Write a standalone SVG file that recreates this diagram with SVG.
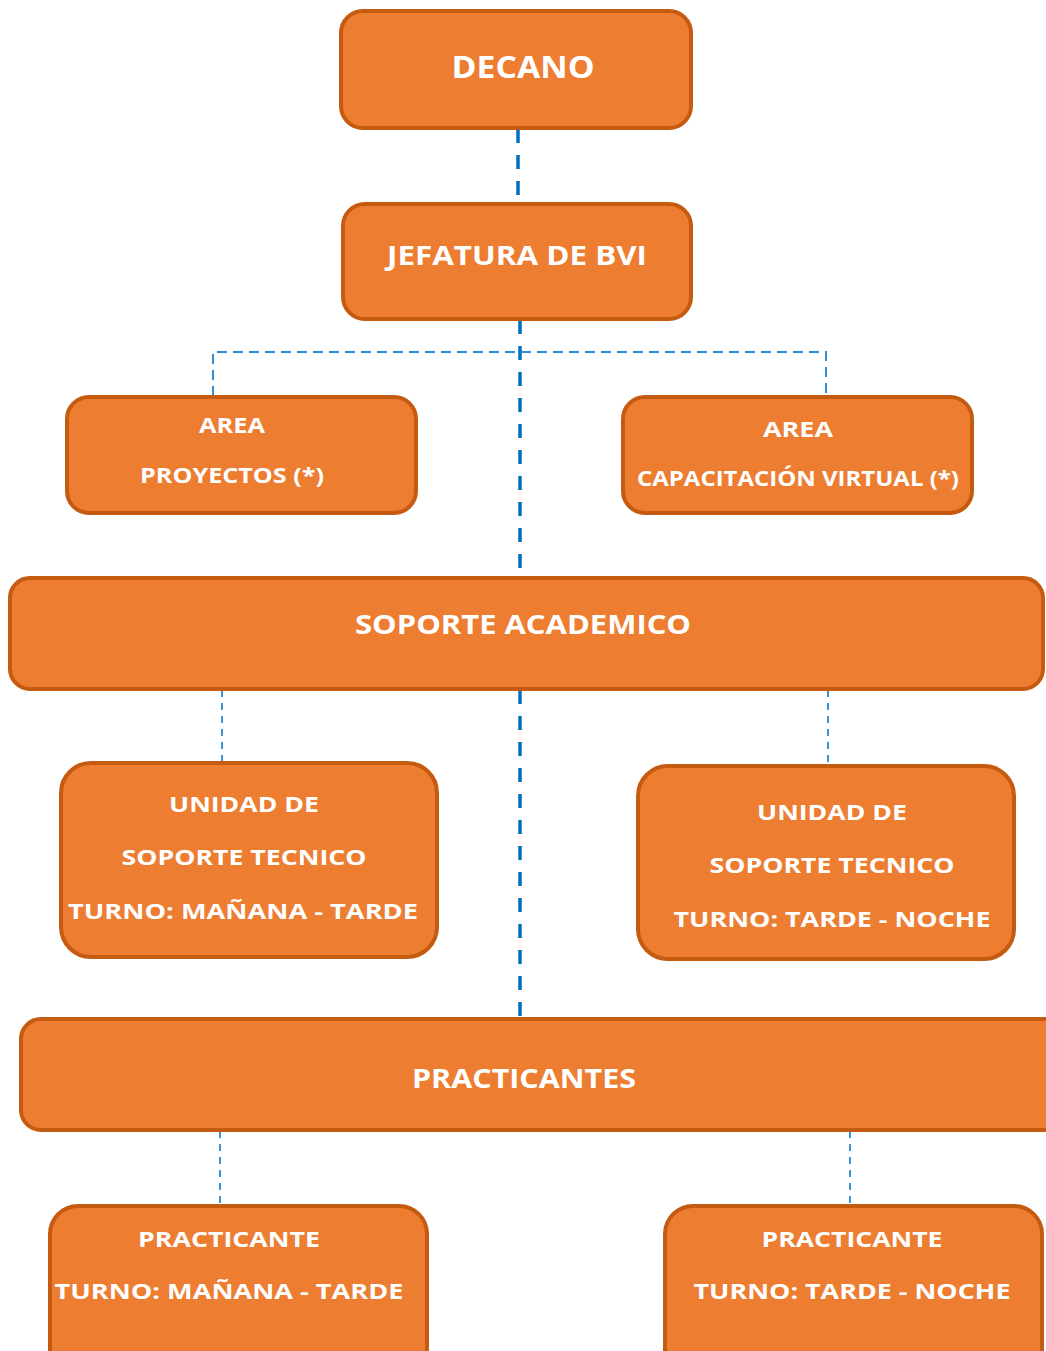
<svg xmlns="http://www.w3.org/2000/svg" width="1046" height="1351" viewBox="0 0 1046 1351">
<style>
.box{fill:#ED7D31;stroke:#C55A11;stroke-width:4}
.t{font-family:"Open Sans","Liberation Sans",sans-serif;font-weight:bold;fill:#FFFFFF;text-anchor:middle}
.main{stroke:#0070C0;stroke-width:3.5;stroke-dasharray:14 12;fill:none}
.side{stroke:#2E8FD8;stroke-width:2;stroke-dasharray:10 6;fill:none}
.thin{stroke:#3D95D8;stroke-width:2;stroke-dasharray:7 6;fill:none}
</style>
<rect width="1046" height="1351" fill="#FFFFFF"/>
<g id="connectors">
<line class="main" x1="518" y1="129" x2="518" y2="203"/>
<line class="main" x1="520" y1="320" x2="520" y2="577"/>
<polyline class="side" points="213,396 213,352 826,352 826,396"/>
<line class="thin" x1="222" y1="690" x2="222" y2="762"/>
<line class="thin" x1="828" y1="690" x2="828" y2="765"/>
<line class="main" x1="520" y1="690" x2="520" y2="1018"/>
<line class="thin" x1="220" y1="1131" x2="220" y2="1205"/>
<line class="thin" x1="850" y1="1131" x2="850" y2="1205"/>
</g>
<g id="decano">
<rect class="box" x="341" y="11" width="350" height="117" rx="22"/>
<text class="t" x="523" y="78" font-size="30" textLength="143" lengthAdjust="spacingAndGlyphs">DECANO</text>
</g>
<g id="jefatura">
<rect class="box" x="343" y="204" width="348" height="115" rx="22"/>
<text class="t" x="517" y="265" font-size="26" textLength="260" lengthAdjust="spacingAndGlyphs">JEFATURA DE BVI</text>
</g>
<g id="area-proyectos">
<rect class="box" x="67" y="397" width="349" height="116" rx="22"/>
<text class="t" x="232" y="433" font-size="21" textLength="66" lengthAdjust="spacingAndGlyphs">AREA</text>
<text class="t" x="232" y="483" font-size="21" textLength="184" lengthAdjust="spacingAndGlyphs">PROYECTOS (*)</text>
</g>
<g id="area-capacitacion">
<rect class="box" x="623" y="397" width="349" height="116" rx="22"/>
<text class="t" x="798" y="437" font-size="21" textLength="70" lengthAdjust="spacingAndGlyphs">AREA</text>
<text class="t" x="798" y="486" font-size="21" textLength="322" lengthAdjust="spacingAndGlyphs">CAPACITACIÓN VIRTUAL (*)</text>
</g>
<g id="soporte-academico">
<rect class="box" x="10" y="578" width="1033" height="111" rx="20"/>
<text class="t" x="523" y="634" font-size="27" textLength="336" lengthAdjust="spacingAndGlyphs">SOPORTE ACADEMICO</text>
</g>
<g id="unidad-manana">
<rect class="box" x="61" y="763" width="376" height="194" rx="30"/>
<text class="t" x="244" y="812" font-size="22" textLength="150" lengthAdjust="spacingAndGlyphs">UNIDAD DE</text>
<text class="t" x="244" y="865" font-size="22" textLength="245" lengthAdjust="spacingAndGlyphs">SOPORTE TECNICO</text>
<text class="t" x="243" y="919" font-size="22" textLength="350" lengthAdjust="spacingAndGlyphs">TURNO: MAÑANA - TARDE</text>
</g>
<g id="unidad-noche">
<rect class="box" x="638" y="766" width="376" height="193" rx="30"/>
<text class="t" x="832" y="820" font-size="22" textLength="150" lengthAdjust="spacingAndGlyphs">UNIDAD DE</text>
<text class="t" x="832" y="873" font-size="22" textLength="245" lengthAdjust="spacingAndGlyphs">SOPORTE TECNICO</text>
<text class="t" x="832" y="927" font-size="22" textLength="317" lengthAdjust="spacingAndGlyphs">TURNO: TARDE - NOCHE</text>
</g>
<g id="practicantes">
<rect class="box" x="21" y="1019" width="1050" height="111" rx="20"/>
<text class="t" x="524" y="1088" font-size="27" textLength="224" lengthAdjust="spacingAndGlyphs">PRACTICANTES</text>
</g>
<g id="practicante-manana">
<rect class="box" x="50" y="1206" width="377" height="180" rx="28"/>
<text class="t" x="229" y="1247" font-size="22" textLength="182" lengthAdjust="spacingAndGlyphs">PRACTICANTE</text>
<text class="t" x="229" y="1299" font-size="22" textLength="349" lengthAdjust="spacingAndGlyphs">TURNO: MAÑANA - TARDE</text>
</g>
<g id="practicante-noche">
<rect class="box" x="665" y="1206" width="377" height="180" rx="28"/>
<text class="t" x="852" y="1247" font-size="22" textLength="181" lengthAdjust="spacingAndGlyphs">PRACTICANTE</text>
<text class="t" x="852" y="1299" font-size="22" textLength="317" lengthAdjust="spacingAndGlyphs">TURNO: TARDE - NOCHE</text>
</g>
</svg>
